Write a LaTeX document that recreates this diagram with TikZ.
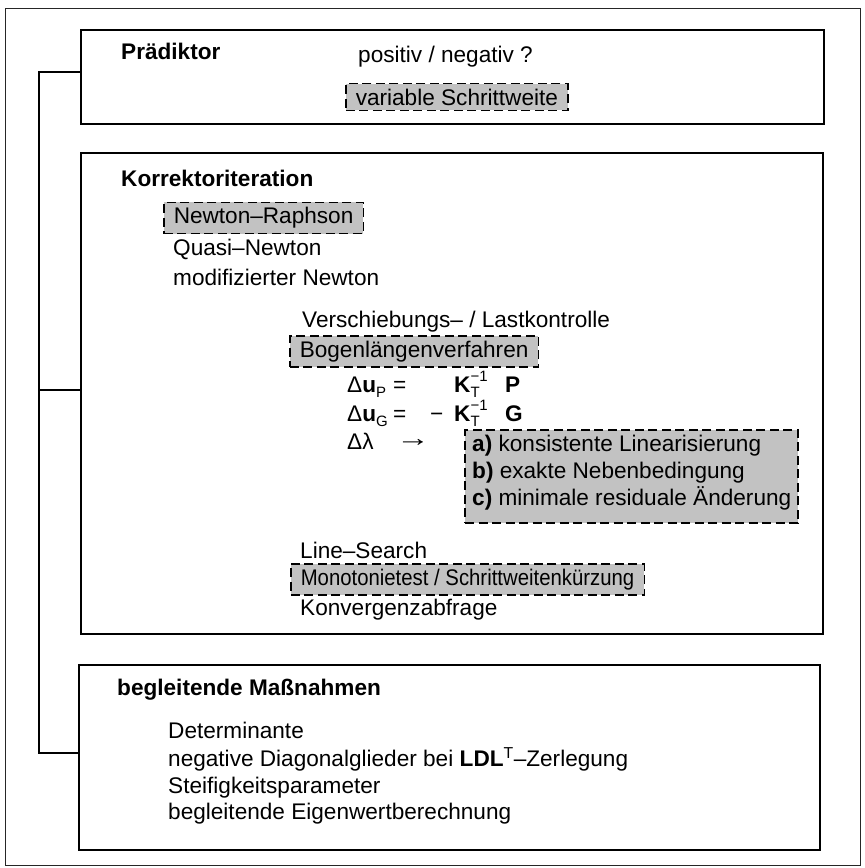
\documentclass[tikz,border=0pt]{standalone}
\usepackage{fontspec}
\setmainfont{Liberation Sans}
\newcommand\dfs{\fontsize{22.6}{27}\selectfont}
\newcommand\sml[1]{{\fontsize{15}{15}\selectfont #1}}
\newcommand\KTinv{\textbf{K}\rlap{\raisebox{0.85ex}{\sml{−1}}}\raisebox{-0.45ex}{\sml{T}}\hspace{0.9em}}
\begin{document}
\begin{tikzpicture}[x=1pt,y=-1pt,
  txt/.style={anchor=base west, inner sep=0pt, font=\dfs},
  hd/.style={txt, font=\dfs\bfseries},
  frame/.style={draw=black, line width=1.8pt, inner sep=0pt},
  dboxbase/.style={draw=black, line width=1.5pt, dash pattern=on 9pt off 4.5pt, fill=black!24},
  dbox/.style={dboxbase, inner xsep=10pt, inner ysep=5pt, font=\dfs, anchor=west},
  conn/.style={line width=1.5pt}]
\useasboundingbox (0,0) rectangle (865,868);
% outer frame
\node[draw=black!85, line width=1pt, minimum width=855, minimum height=857, inner sep=0pt] (outer) at (432.5,436.5) {};
% main boxes
\node[frame, minimum width=743, minimum height=94] (box1) at (452.5,77) {};
\node[frame, minimum width=742, minimum height=481] (box2) at (452,393.5) {};
\node[frame, minimum width=741, minimum height=185] (box3) at (449.5,757.5) {};
% connectors
\coordinate (j1) at (39,72);
\coordinate (j2) at (39,390);
\coordinate (j3) at (39,753);
\draw[conn] (box1.west |- j1) -- (j1) -- (j3) -- (box3.west |- j3);
\draw[conn] (j2) -- (box2.west |- j2);
% Praediktor
\node[hd] (prd) at (121,59) {Prädiktor};
\node[txt] (pn) at (358,62) {positiv / negativ ?};
\node[dbox] (var) at (345,97) {variable Schrittweite};
% Korrektoriteration
\node[hd] (kor) at (121,186) {Korrektoriteration};
\node[dbox] (nr) at (163,218) {Newton–Raphson};
\node[txt] (qn) at (173,255) {Quasi–Newton};
\node[txt] (mn) at (173,285) {modifizierter Newton};
\node[txt] (vl) at (302,327) {Verschiebungs– / Lastkontrolle};
\node[dbox] (bog) at (289,351.5) {Bogenlängenverfahren};
% formulas
\node[txt] (du1) at (347,392) {Δ\textbf{u}\raisebox{-0.45ex}{\sml{P}}};
\node[txt] (eq1) at (393,392) {=};
\node[txt] (k1) at (454,392) {\KTinv};
\node[txt] (p1) at (505,392) {\textbf{P}};
\node[txt] (du2) at (347,421) {Δ\textbf{u}\raisebox{-0.45ex}{\sml{G}}};
\node[txt] (eq2) at (393,421) {=};
\node[txt] (mi2) at (430,421) {−};
\node[txt] (k2) at (454,421) {\KTinv};
\node[txt] (g2) at (505,421) {\textbf{G}};
\node[txt] (dl) at (347,449) {Δλ};
\node[txt] (ar) at (396,446) {\scalebox{1.5}[1.1]{→}};
\node[dboxbase, minimum width=333, minimum height=93, inner sep=0pt] (abc) at (631.5,476.5) {};
\node[txt] (ta) at (472,451) {\textbf{a)} konsistente Linearisierung};
\node[txt] (tb) at (472,478) {\textbf{b)} exakte Nebenbedingung};
\node[txt] (tc) at (472,505) {\textbf{c)} minimale residuale Änderung};
\node[txt] (ls) at (300,558) {Line–Search};
\node[dbox] (mono) at (290,579.5) {\scalebox{0.9}[1]{Monotonietest / Schrittweitenkürzung}};
\node[txt] (kv) at (300,615) {Konvergenzabfrage};
% begleitende Massnahmen
\node[hd] (bm) at (117,695) {begleitende Maßnahmen};
\node[txt] (det) at (168,738) {Determinante};
\node[txt] (neg) at (168,766) {negative Diagonalglieder bei \textbf{LDL}\textsuperscript{T}–Zerlegung};
\node[txt] (stf) at (168,793) {Steifigkeitsparameter};
\node[txt] (eig) at (168,819) {begleitende Eigenwertberechnung};
\end{tikzpicture}
\end{document}
